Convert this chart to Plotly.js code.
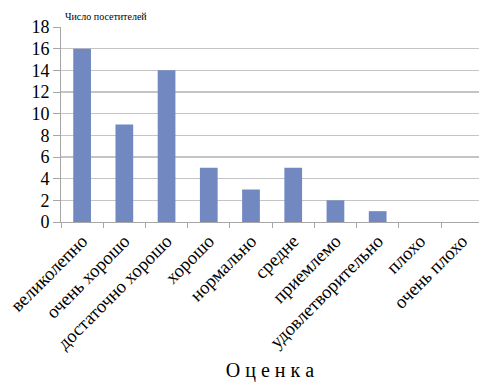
<!DOCTYPE html>
<html>
<head>
<meta charset="utf-8">
<script src="https://cdn.plot.ly/plotly-3.0.1.min.js"></script>
<style>html,body{margin:0;padding:0;background:#fff;}#chart{width:479px;height:382px;}</style>
</head>
<body>
<div id="chart"></div>
<script>
var categories = ["великолепно", "очень хорошо", "достаточно хорошо", "хорошо", "нормально", "средне", "приемлемо", "удовлетворительно", "плохо", "очень плохо"];
var visitors = [16, 9, 14, 5, 3, 5, 2, 1, 0, 0];
var yTicks = [0, 2, 4, 6, 8, 10, 12, 14, 16, 18];
var yTitle = "Число посетителей";
var xTitle = "О ц е н к а";

var serif = "Liberation Serif, DejaVu Serif, serif";
var trace = {
  type: "bar",
  x: categories,
  y: visitors,
  width: 0.42,
  marker: {color: "#7189c0", line: {width: 0}},
  hoverinfo: "none"
};
var layout = {
  width: 479, height: 382,
  font: {family: serif},
  margin: {l: 61, r: 0, t: 27, b: 160},
  paper_bgcolor: "#ffffff",
  plot_bgcolor: "#ffffff",
  showlegend: false,
  bargap: 0.58,
  xaxis: {
    type: "category",
    range: [-0.5, 9.4],
    tickangle: -45,
    ticks: "outside",
    tickson: "boundaries",
    ticklen: 5,
    tickcolor: "#a6a6a6",
    showline: true,
    linecolor: "#a6a6a6",
    showgrid: false,
    tickfont: {family: serif, size: 18.5, color: "#000"},
    title: {text: xTitle, font: {family: serif, size: 20, color: "#000"}, standoff: 12},
    automargin: false
  },
  yaxis: {
    range: [0, 18],
    tickvals: yTicks,
    ticks: "outside",
    ticklen: 7,
    tickcolor: "#a6a6a6",
    showline: true,
    linecolor: "#a6a6a6",
    showgrid: true,
    gridcolor: "#c4c4c4",
    gridwidth: 1.5,
    zeroline: false,
    tickfont: {family: serif, size: 18, color: "#000"},
    automargin: false
  },
  annotations: [{
    text: yTitle, xref: "paper", yref: "paper", x: 0.005, y: 1.055,
    xanchor: "left", yanchor: "middle", showarrow: false,
    font: {family: serif, size: 10, color: "#000"}
  }]
};
Plotly.newPlot("chart", [trace], layout, {staticPlot: true, displayModeBar: false});
</script>
</body>
</html>
